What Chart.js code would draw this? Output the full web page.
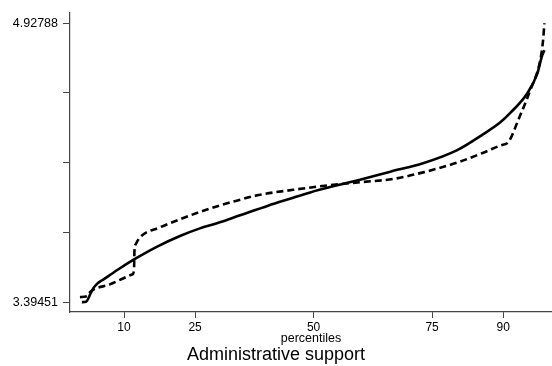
<!DOCTYPE html>
<html>
<head>
<meta charset="utf-8">
<script src="https://cdn.jsdelivr.net/npm/chart.js@4"></script>
<style>
  html, body { margin: 0; padding: 0; background: #fff; }
  #wrap { width: 552px; height: 366px; }
</style>
</head>
<body>
<div id="wrap"><canvas id="c" width="552" height="366"></canvas></div>
<script>
// Quantile curves of the two groups (percentile, value)
const solidPct = [1.1, 2.0, 3.0, 3.5, 4.3, 5.6, 8.5, 12.3, 17.0, 21.8, 26.0, 29.6, 34.5, 40.4, 45.0, 49.3, 55.0, 59.8, 66.2, 73.1, 80.3, 85.8, 89.4, 91.5, 95.1, 97.2, 98.2, 98.7];
const solidVal = [3.3945, 3.3970, 3.445, 3.470, 3.495, 3.518, 3.570, 3.632, 3.700, 3.758, 3.800, 3.828, 3.872, 3.925, 3.963, 3.998, 4.037, 4.068, 4.112, 4.158, 4.230, 4.318, 4.383, 4.435, 4.543, 4.651, 4.749, 4.780];

const dashPct = [0.7, 2.2, 2.8, 7.0, 11.7, 12.1, 12.2, 12.5, 13.4, 17.6, 21.8, 27.5, 33.0, 38.7, 45.7, 52.9, 59.8, 66.8, 73.1, 80.3, 85.8, 89.4, 91.1, 93.2, 95.7, 97.8, 98.4, 98.7];
const dashVal = [3.422, 3.427, 3.449, 3.492, 3.546, 3.568, 3.676, 3.714, 3.752, 3.806, 3.850, 3.904, 3.947, 3.985, 4.012, 4.036, 4.054, 4.072, 4.108, 4.162, 4.216, 4.256, 4.275, 4.397, 4.559, 4.722, 4.830, 4.92788];

// Axis ticks
const xTicks = [10, 25, 50, 75, 90];
const yMin = 3.39451, yMax = 4.92788;
const yTicks = [0, 1, 2, 3, 4].map(k => yMin + k * (yMax - yMin) / 4);

const toPoints = (xs, ys) => xs.map((x, i) => ({ x: x, y: ys[i] }));

const FONT = "'Liberation Sans', Arial, sans-serif";
const AXIS = '#444';

new Chart(document.getElementById('c'), {
  type: 'line',
  data: {
    datasets: [
      {
        data: toPoints(solidPct, solidVal),
        borderColor: '#000',
        borderWidth: 2.6,
        pointRadius: 0,
        cubicInterpolationMode: 'monotone',
        fill: false
      },
      {
        data: toPoints(dashPct, dashVal),
        borderColor: '#000',
        borderWidth: 2.6,
        borderDash: [7, 4],
        pointRadius: 0,
        cubicInterpolationMode: 'monotone',
        fill: false
      }
    ]
  },
  options: {
    responsive: false,
    animation: false,
    layout: { padding: { top: 8, right: 0, left: 0, bottom: 0 } },
    plugins: {
      legend: { display: false },
      tooltip: { enabled: false },
      title: {
        display: true,
        position: 'bottom',
        text: 'Administrative support',
        color: '#000',
        font: { family: FONT, size: 18, weight: 'normal', lineHeight: 1.0 },
        padding: { top: 0, bottom: 2 },
        align: 'center'
      }
    },
    scales: {
      x: {
        type: 'linear',
        min: -1.4,
        max: 100.3,
        afterBuildTicks: s => { s.ticks = xTicks.map(v => ({ value: v })); },
        afterFit: s => { s.height = 34; },
        ticks: {
          autoSkip: false,
          maxRotation: 0,
          padding: 2,
          color: '#000',
          font: { family: FONT, size: 12 }
        },
        grid: { drawOnChartArea: false, drawTicks: true, tickLength: 6, color: AXIS, lineWidth: 1 },
        border: { display: true, color: AXIS, width: 1.2 },
        title: {
          display: true,
          text: 'percentiles',
          color: '#000',
          font: { family: FONT, size: 12.5 },
          padding: { top: 0, bottom: 0 }
        }
      },
      y: {
        type: 'linear',
        min: 3.3403,
        max: 4.987,
        afterBuildTicks: s => { s.ticks = yTicks.map(v => ({ value: v })); },
        afterFit: s => { s.width = 70; },
        ticks: {
          autoSkip: false,
          padding: 5,
          color: '#000',
          font: { family: FONT, size: 12.5 },
          callback: (v, i) => (i === 0 ? '3.39451' : i === yTicks.length - 1 ? '4.92788' : '')
        },
        grid: { drawOnChartArea: false, drawTicks: true, tickLength: 7, color: AXIS, lineWidth: 1 },
        border: { display: true, color: AXIS, width: 1.2 }
      }
    }
  }
});
</script>
</body>
</html>
